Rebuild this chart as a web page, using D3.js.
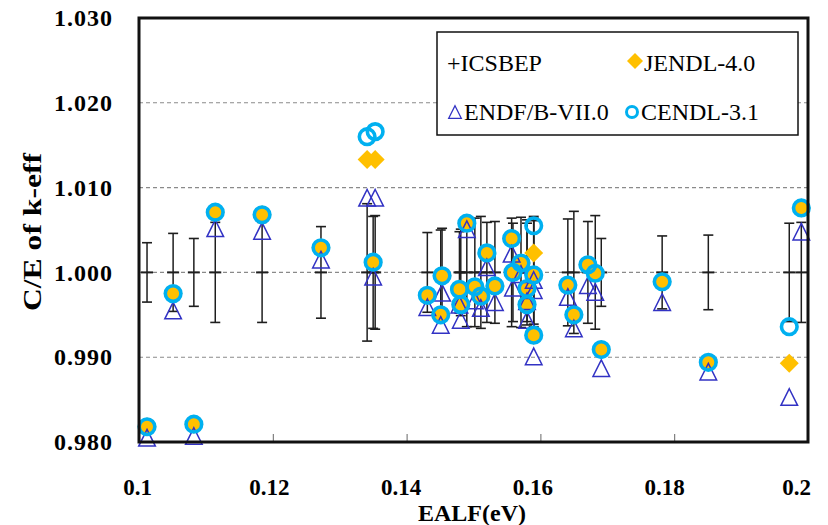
<!DOCTYPE html>
<html>
<head>
<meta charset="utf-8">
<script src="https://cdn.jsdelivr.net/npm/d3@7"></script>
<style>
  html, body { margin: 0; padding: 0; background: #fff; }
  svg { display: block; }
  text { font-family: "Liberation Serif", "Times New Roman", serif; fill: #000; }
</style>
</head>
<body>
<svg id="chart" width="828" height="525"></svg>
<script>
// EALF of each benchmark experiment (eV)
const ealf = [
  0.1012, 0.1051, 0.1082, 0.1114, 0.1184, 0.1272, 0.1341, 0.1353, 0.1350,
  0.1431, 0.1453, 0.1451, 0.1479, 0.1481, 0.1490, 0.1502, 0.1511, 0.1520,
  0.1532, 0.1557, 0.1571, 0.1559, 0.1580, 0.1590, 0.1580, 0.1590, 0.1590,
  0.1641, 0.1650, 0.1671, 0.1682, 0.1691, 0.1782, 0.1851, 0.1972, 0.1990
];
// ICSBEP benchmark uncertainty (1 sigma) on k-eff, plotted around C/E = 1
const icsbepErr = [
  0.0035, 0.0046, 0.0040, 0.0059, 0.0059, 0.0054, 0.0081, 0.0067, 0.0066,
  0.0047, 0.0052, 0.0050, 0.0048, 0.0051, 0.0064, 0.0064, 0.0066, 0.0059,
  0.0060, 0.0064, 0.0065, 0.0058, 0.0062, 0.0066, 0.0058, 0.0064, 0.0061,
  0.0063, 0.0072, 0.0060, 0.0067, 0.0040, 0.0043, 0.0044, 0.0058, 0.0059
];
// C/E values per evaluated library
const jendl40 = [
  0.9818, 0.9975, 0.9821, 1.0071, 1.0068, 1.0029, 1.0133, 1.0133, 1.0012,
  0.9973, 0.9996, 0.9950, 0.9980, 0.9962, 1.0058, 0.9983, 0.9972, 1.0023,
  0.9984, 1.0040, 1.0011, 1.0000, 0.9981, 0.9997, 0.9962, 1.0023, 0.9926,
  0.9985, 0.9950, 1.0009, 0.9999, 0.9909, 0.9989, 0.9894, 0.9893, 1.0076
];
const endfb70 = [
  0.9805, 0.9955, 0.9807, 1.0052, 1.0049, 1.0015, 1.0088, 1.0088, 0.9995,
  0.9959, 0.9976, 0.9938, 0.9962, 0.9944, 1.0051, 0.9967, 0.9958, 1.0006,
  0.9965, 1.0022, 0.9998, 0.9982, 0.9966, 0.9979, 0.9944, 0.9991, 0.9901,
  0.9971, 0.9934, 0.9985, 0.9977, 0.9887, 0.9965, 0.9883, 0.9853, 1.0048
];
const cendl31 = [
  0.9818, 0.9975, 0.9821, 1.0071, 1.0068, 1.0029, 1.0160, 1.0166, 1.0012,
  0.9973, 0.9996, 0.9950, 0.9980, 0.9962, 1.0058, 0.9983, 0.9972, 1.0023,
  0.9984, 1.0040, 1.0011, 1.0000, 0.9981, 0.9997, 0.9962, 1.0055, 0.9926,
  0.9985, 0.9950, 1.0009, 0.9999, 0.9909, 0.9989, 0.9894, 0.9936, 1.0076
];
// Axis ticks
const xTicks = [0.1, 0.12, 0.14, 0.16, 0.18, 0.2];
const xTickLabels = ["0.1", "0.12", "0.14", "0.16", "0.18", "0.2"];
const yTicks = [0.98, 0.99, 1.00, 1.01, 1.02, 1.03];
const gridValues = [0.99, 1.00, 1.01, 1.02];
const legendLabels = ["+ICSBEP", "JENDL-4.0", "ENDF/B-VII.0", "CENDL-3.1"];

const rows = ealf.map((x, i) => ({
  x, err: icsbepErr[i], jendl: jendl40[i], endf: endfb70[i], cendl: cendl31[i]
}));

const svg = d3.select("#chart");
const x = d3.scaleLinear().domain([0.1, 0.2]).range([139, 808]);
const y = d3.scaleLinear().domain([0.98, 1.03]).range([442, 18]);

const COL_CENDL = "#00b0f0";
const COL_JENDL = "#ffc000";
const COL_ENDF = "#3232c4";

svg.append("rect").attr("width", 828).attr("height", 525).attr("fill", "#fff");

// dashed horizontal gridlines
svg.append("g").selectAll("line").data(gridValues).join("line")
  .attr("x1", x(0.1)).attr("x2", x(0.2))
  .attr("y1", d => y(d)).attr("y2", d => y(d))
  .attr("stroke", "#8a8a8a").attr("stroke-width", 1.1)
  .attr("stroke-dasharray", "4,3");

// y axis labels
const yAxis = d3.axisLeft(y).tickValues(yTicks).tickFormat(d3.format(".3f")).tickSize(0).tickPadding(26);
const gy = svg.append("g").attr("transform", `translate(${x(0.1)},0)`).call(yAxis);
gy.select(".domain").remove();
gy.selectAll("text")
  .attr("font-family", "Liberation Serif, serif")
  .attr("font-size", 24).attr("font-weight", "bold").attr("fill", "#000")
  .attr("letter-spacing", 1);

// x axis: inward ticks and labels
const xAxis = d3.axisBottom(x).tickValues(xTicks)
  .tickFormat((d, i) => xTickLabels[i]).tickSize(-8).tickPadding(37);
const gx = svg.append("g").attr("transform", `translate(0,${y(0.98)})`).call(xAxis);
gx.select(".domain").remove();
gx.selectAll(".tick line").attr("stroke", "#666").attr("stroke-width", 1);
gx.selectAll("text")
  .attr("font-family", "Liberation Serif, serif")
  .attr("font-size", 23).attr("font-weight", "bold").attr("fill", "#000")
  .attr("dx", (d, i) => -2 - i * 2);

// axis titles
svg.append("text")
  .attr("x", 472).attr("y", 521)
  .attr("text-anchor", "middle")
  .attr("font-size", 24).attr("font-weight", "bold")
  .text("EALF(eV)");
svg.append("text")
  .attr("transform", "translate(41,232) rotate(-90)")
  .attr("text-anchor", "middle")
  .attr("font-size", 26).attr("font-weight", "bold")
  .attr("textLength", 158).attr("lengthAdjust", "spacingAndGlyphs")
  .text("C/E of k-eff");

// ICSBEP benchmark: C/E = 1 with experimental uncertainty bars
const gE = svg.append("g").attr("stroke", "#1e1e1e").attr("fill", "none");
gE.selectAll("line.bar").data(rows).join("line").attr("class", "bar")
  .attr("x1", d => x(d.x)).attr("x2", d => x(d.x))
  .attr("y1", d => y(1 + d.err)).attr("y2", d => y(1 - d.err))
  .attr("stroke-width", 1.5);
gE.selectAll("line.capTop").data(rows).join("line").attr("class", "capTop")
  .attr("x1", d => x(d.x) - 5).attr("x2", d => x(d.x) + 5)
  .attr("y1", d => y(1 + d.err)).attr("y2", d => y(1 + d.err))
  .attr("stroke-width", 1.6);
gE.selectAll("line.capBot").data(rows).join("line").attr("class", "capBot")
  .attr("x1", d => x(d.x) - 5).attr("x2", d => x(d.x) + 5)
  .attr("y1", d => y(1 - d.err)).attr("y2", d => y(1 - d.err))
  .attr("stroke-width", 1.6);
gE.selectAll("line.plus").data(rows).join("line").attr("class", "plus")
  .attr("x1", d => x(d.x) - 6).attr("x2", d => x(d.x) + 6)
  .attr("y1", y(1)).attr("y2", y(1))
  .attr("stroke-width", 2);

// marker shapes
const diamond = s => `M0,${-s}L${s},0L0,${s}L${-s},0Z`;
const triangle = s => `M0,${-s}L${s},${s}L${-s},${s}Z`;

// JENDL-4.0 filled diamonds
svg.append("g").selectAll("path").data(rows).join("path")
  .attr("transform", d => `translate(${x(d.x)},${y(d.jendl)})`)
  .attr("d", diamond(9.5))
  .attr("fill", COL_JENDL);

// ENDF/B-VII.0 open triangles
svg.append("g").selectAll("path").data(rows).join("path")
  .attr("transform", d => `translate(${x(d.x)},${y(d.endf)})`)
  .attr("d", triangle(8.3))
  .attr("fill", "none").attr("stroke", COL_ENDF).attr("stroke-width", 1.5);

// CENDL-3.1 open circles
svg.append("g").selectAll("circle").data(rows).join("circle")
  .attr("cx", d => x(d.x)).attr("cy", d => y(d.cendl))
  .attr("r", 7.8)
  .attr("fill", "none").attr("stroke", COL_CENDL).attr("stroke-width", 3.6);

// plot frame
svg.append("rect")
  .attr("x", x(0.1)).attr("y", y(1.03))
  .attr("width", x(0.2) - x(0.1)).attr("height", y(0.98) - y(1.03))
  .attr("fill", "none").attr("stroke", "#111").attr("stroke-width", 3);

// legend
const lg = svg.append("g");
lg.append("rect").attr("x", 437).attr("y", 32).attr("width", 361).attr("height", 103)
  .attr("fill", "#fff").attr("stroke", "#111").attr("stroke-width", 1.5);
lg.append("text").attr("x", 447).attr("y", 71).attr("font-size", 24).text(legendLabels[0]);
lg.append("path").attr("transform", "translate(635,61)").attr("d", diamond(8)).attr("fill", COL_JENDL);
lg.append("text").attr("x", 644).attr("y", 71).attr("font-size", 24).text(legendLabels[1]);
lg.append("path").attr("transform", "translate(455,112)").attr("d", triangle(6.3))
  .attr("fill", "none").attr("stroke", COL_ENDF).attr("stroke-width", 1.3);
lg.append("text").attr("x", 464).attr("y", 120).attr("font-size", 24).text(legendLabels[2]);
lg.append("circle").attr("cx", 632).attr("cy", 112).attr("r", 5.5)
  .attr("fill", "none").attr("stroke", COL_CENDL).attr("stroke-width", 3);
lg.append("text").attr("x", 641).attr("y", 120).attr("font-size", 24).text(legendLabels[3]);
</script>
</body>
</html>
